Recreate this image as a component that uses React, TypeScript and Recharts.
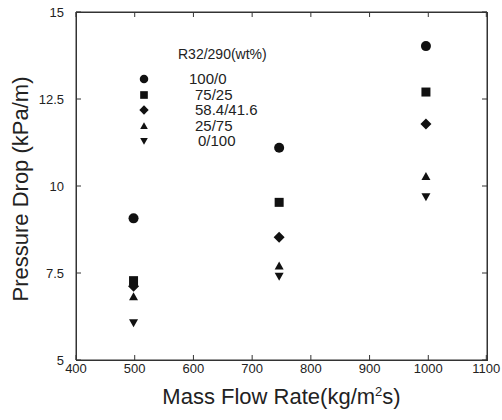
import React from 'react';
import { ScatterChart, Scatter, XAxis, YAxis, Label, ReferenceLine } from 'recharts';

// mass flow rate (kg/m2s) for the three test points
const massFlow = [498, 746, 996];

// pressure drop (kPa/m) per R32/290 mixture
const r100_0 = [9.07, 11.1, 14.02];
const r75_25 = [7.28, 9.53, 12.7];
const r58_41 = [7.12, 8.53, 11.78];
const r25_75 = [6.82, 7.7, 10.27];
const r0_100 = [6.07, 7.41, 9.69];

const legendLabels = ['100/0', '75/25', '58.4/41.6', '25/75', '0/100'];
const legendTitle = 'R32/290(wt%)';
const xTicks = [400, 500, 600, 700, 800, 900, 1000, 1100];
const yTicks = [5, 7.5, 10, 12.5, 15];

const INK = '#111';
const FRAME = '#333';
const FONT = '"Liberation Sans", Arial, sans-serif';

const W = 502;
const H = 420;
const MARGIN = { top: 12, right: 15, bottom: 0, left: 0 };
const Y_AXIS_W = 76;
const X_AXIS_H = 60;
const PLOT_TOP = MARGIN.top;
const PLOT_RIGHT = W - MARGIN.right;

type Kind = 'circle' | 'square' | 'diamond' | 'up' | 'down';
const kinds: Kind[] = ['circle', 'square', 'diamond', 'up', 'down'];

const toPoints = (vals: number[]) => vals.map((y, i) => ({ x: massFlow[i], y }));
const seriesData = [r100_0, r75_25, r58_41, r25_75, r0_100].map(toPoints);

const Glyph = ({ kind, cx, cy, s = 1 }: { kind: Kind; cx: number; cy: number; s?: number }) => {
  if (kind === 'circle') return <circle cx={cx} cy={cy} r={5 * s} fill={INK} />;
  if (kind === 'square') return <rect x={cx - 4.5 * s} y={cy - 4.5 * s} width={9 * s} height={9 * s} fill={INK} />;
  if (kind === 'diamond') {
    const d = 5.5 * s;
    return <polygon points={`${cx},${cy - d} ${cx + d},${cy} ${cx},${cy + d} ${cx - d},${cy}`} fill={INK} />;
  }
  const w = 4.5 * s;
  if (kind === 'up')
    return <polygon points={`${cx},${cy - 4.5 * s} ${cx + w},${cy + 3.5 * s} ${cx - w},${cy + 3.5 * s}`} fill={INK} />;
  return <polygon points={`${cx},${cy + 4.5 * s} ${cx + w},${cy - 3.5 * s} ${cx - w},${cy - 3.5 * s}`} fill={INK} />;
};

const makeShape = (kind: Kind) => (props: any) => <Glyph kind={kind} cx={props.cx} cy={props.cy} />;

const labelIndent = [59, 65, 65, 65, 68];

const MixLegend = () => (
  <div style={{ position: 'absolute', left: 130, top: 40, width: 160, height: 120, fontFamily: FONT, color: '#222' }}>
    <div style={{ position: 'absolute', left: 48, top: 6, fontSize: 14, lineHeight: '16px', whiteSpace: 'nowrap' }}>
      {legendTitle}
    </div>
    {legendLabels.map((name, i) => {
      const cy = 39 + i * 15.6;
      return (
        <React.Fragment key={name}>
          <svg style={{ position: 'absolute', left: 7, top: cy - 7 }} width={14} height={14}>
            <Glyph kind={kinds[i]} cx={7} cy={7} s={0.85} />
          </svg>
          <div
            style={{
              position: 'absolute',
              left: labelIndent[i],
              top: cy - 9,
              fontSize: 15,
              lineHeight: '17px',
              whiteSpace: 'nowrap',
            }}
          >
            {name}
          </div>
        </React.Fragment>
      );
    })}
  </div>
);

// plot frame drawn as an overlay so the top and right edges are always visible
const Frame = () => (
  <div
    style={{
      position: 'absolute',
      left: MARGIN.left + Y_AXIS_W,
      top: PLOT_TOP,
      width: PLOT_RIGHT - (MARGIN.left + Y_AXIS_W) - 1,
      height: H - X_AXIS_H - PLOT_TOP - 1,
      border: `1px solid ${FRAME}`,
      pointerEvents: 'none',
    }}
  />
);

// bottom tick label, plus inward ticks on both the bottom and top edges
const XTick = ({ x, y, payload }: any) => (
  <g>
    <line x1={x} x2={x} y1={PLOT_TOP} y2={PLOT_TOP + 5} stroke={FRAME} strokeWidth={1} />
    <line x1={x} x2={x} y1={H - X_AXIS_H - 5} y2={H - X_AXIS_H} stroke={FRAME} strokeWidth={1} />
    <text x={x} y={y} dy="0.71em" textAnchor="middle" fontSize={13} fontFamily={FONT} fill="#222">
      {payload.value}
    </text>
  </g>
);

// left tick label, plus inward ticks on both the left and right edges
const YTick = ({ x, y, payload }: any) => (
  <g>
    <line x1={PLOT_RIGHT - 5} x2={PLOT_RIGHT} y1={y} y2={y} stroke={FRAME} strokeWidth={1} />
    <line x1={Y_AXIS_W} x2={Y_AXIS_W + 5} y1={y} y2={y} stroke={FRAME} strokeWidth={1} />
    <text x={x} y={y} dy="0.35em" textAnchor="end" fontSize={13} fontFamily={FONT} fill="#222">
      {payload.value}
    </text>
  </g>
);

const YTitle = ({ viewBox }: any) => {
  const x = viewBox.x + 20;
  const y = viewBox.y + viewBox.height / 2 + 3;
  return (
    <text x={x} y={y} transform={`rotate(-90 ${x} ${y})`} textAnchor="middle" dominantBaseline="central"
      fontSize={22} fontFamily={FONT} fill="#222">
      Pressure Drop (kPa/m)
    </text>
  );
};

const XTitle = ({ viewBox }: any) => {
  const x = viewBox.x + viewBox.width / 2;
  const y = viewBox.y + 44;
  return (
    <text x={x} y={y} textAnchor="middle" fontSize={22} fontFamily={FONT} fill="#222">
      Mass Flow Rate(kg/m
      <tspan dy={-8} fontSize={13}>2</tspan>
      <tspan dy={8}>s)</tspan>
    </text>
  );
};

export default function App() {
  return (
    <div style={{ position: 'absolute', left: 0, top: 0, width: W, height: H, background: '#fff' }}>
      <ScatterChart width={W} height={H} margin={MARGIN}>
        <XAxis
          type="number"
          dataKey="x"
          domain={[400, 1100]}
          ticks={xTicks}
          height={X_AXIS_H}
          tickLine={false}
          tickSize={0}
          tickMargin={4}
          stroke={FRAME}
          tick={<XTick />}
        >
          <Label content={<XTitle />} />
        </XAxis>
        <YAxis
          type="number"
          dataKey="y"
          domain={[5, 15]}
          ticks={yTicks}
          width={Y_AXIS_W}
          tickLine={false}
          tickSize={0}
          tickMargin={12}
          stroke={FRAME}
          tick={<YTick />}
        >
          <Label content={<YTitle />} />
        </YAxis>
        <ReferenceLine y={15} stroke={FRAME} ifOverflow="visible" />
        <ReferenceLine x={1100} stroke={FRAME} ifOverflow="visible" />
        {seriesData.map((pts, i) => (
          <Scatter
            key={legendLabels[i]}
            name={legendLabels[i]}
            data={pts}
            fill={INK}
            shape={makeShape(kinds[i])}
            isAnimationActive={false}
          />
        ))}
      </ScatterChart>
      <Frame />
      <MixLegend />
    </div>
  );
}
